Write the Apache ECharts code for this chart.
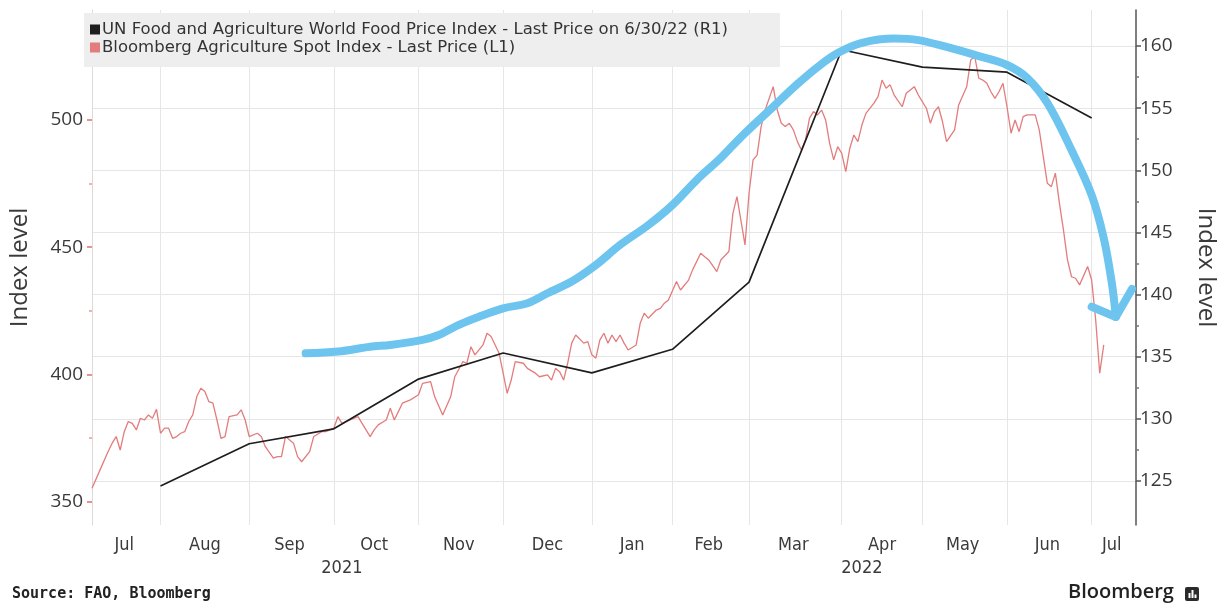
<!DOCTYPE html>
<html>
<head>
<meta charset="utf-8">
<title>Food prices</title>
<script src="https://cdn.jsdelivr.net/npm/echarts@6/dist/echarts.min.js"></script>
<style>
  html, body { margin: 0; padding: 0; background: #ffffff; }
  #chart { width: 1226px; height: 607px; }
</style>
</head>
<body>
<div id="chart"></div>
<script>
// ---- Trading calendar (x axis categories) ----
const firstSession = '2021-07-08';
const lastSession = '2022-07-19';
const marketHolidays = [
  '2021-09-06', '2021-11-25', '2021-12-24', '2022-01-17', '2022-02-21',
  '2022-04-15', '2022-05-30', '2022-06-20', '2022-07-04'
];
const monthNames = ['Jan', 'Feb', 'Mar', 'Apr', 'May', 'Jun', 'Jul', 'Aug', 'Sep', 'Oct', 'Nov', 'Dec'];

// ---- UN FAO World Food Price Index (right axis), monthly ----
const faoDates = [
  '2021-08-02', '2021-09-01', '2021-10-01', '2021-11-01', '2021-12-01', '2022-01-03',
  '2022-02-01', '2022-03-01', '2022-04-01', '2022-05-02', '2022-06-01', '2022-07-01'
];
const faoValues = [124.6, 128.0, 129.2, 133.2, 135.3, 133.7, 135.6, 141.0, 159.7, 158.3, 157.9, 154.2];

// ---- Bloomberg Agriculture Spot Index (left axis): [session number, level] ----
const agriSpot = [
  [0, 355.3], [2, 362.5], [4, 369.7], [5, 373.0], [6, 375.6], [7, 370.3], [8, 377.5], [9, 381.5],
  [10, 380.8], [11, 378.2], [12, 382.8], [13, 382.1], [14, 384.1], [15, 382.8], [16, 386.3], [17, 376.9],
  [18, 378.9], [19, 378.9], [20, 374.9], [21, 375.6], [22, 376.9], [23, 377.5], [24, 381.5], [25, 384.1],
  [26, 391.3], [27, 394.6], [28, 393.3], [29, 389.3], [30, 388.7], [31, 382.1], [32, 374.9], [33, 375.6],
  [34, 383.4], [36, 384.1], [37, 386.1], [38, 382.1], [39, 375.6], [41, 376.9], [42, 375.6], [43, 371.6],
  [45, 367.1], [46, 367.7], [47, 367.7], [48, 375.6], [50, 373.0], [51, 367.7], [52, 365.7], [54, 369.7],
  [55, 375.6], [57, 377.5], [58, 377.5], [60, 378.9], [61, 383.4], [62, 380.8], [64, 382.1], [66, 383.4],
  [67, 380.8], [69, 375.6], [70, 378.2], [71, 380.2], [73, 382.1], [74, 386.7], [75, 382.1], [76, 385.4],
  [77, 388.7], [79, 390.0], [81, 392.0], [82, 396.5], [84, 397.2], [85, 391.3], [87, 384.1], [89, 391.3],
  [90, 399.1], [92, 405.0], [93, 404.4], [94, 410.9], [95, 407.7], [97, 411.6], [98, 416.2], [99, 414.9],
  [101, 408.3], [102, 400.5], [103, 392.6], [104, 397.8], [105, 405.0], [107, 404.4], [108, 402.4], [110, 400.5],
  [111, 399.1], [113, 399.8], [114, 397.8], [115, 402.4], [116, 401.1], [117, 397.8], [118, 404.4], [119, 412.3],
  [120, 415.5], [122, 412.3], [123, 412.9], [124, 407.7], [125, 406.4], [126, 413.6], [127, 416.2], [128, 412.3],
  [129, 415.5], [130, 412.9], [131, 415.5], [132, 412.3], [133, 409.6], [135, 411.6], [136, 420.1], [137, 424.1],
  [138, 422.1], [140, 425.3], [141, 426.0], [142, 428.0], [143, 429.3], [145, 436.5], [146, 433.2], [148, 437.1],
  [149, 441.1], [151, 447.6], [152, 446.3], [153, 445.0], [155, 440.4], [156, 445.0], [158, 448.3], [159, 463.3],
  [160, 469.9], [162, 450.9], [163, 471.2], [164, 484.3], [165, 486.2], [166, 497.4], [167, 503.9], [169, 513.1],
  [170, 503.9], [171, 498.7], [172, 497.4], [173, 498.7], [174, 496.1], [175, 491.5], [176, 488.2], [177, 492.1],
  [178, 500.7], [179, 503.3], [180, 502.0], [181, 503.9], [182, 500.0], [183, 490.8], [184, 484.3], [185, 489.5],
  [186, 486.9], [187, 479.7], [188, 488.9], [189, 494.1], [190, 491.5], [191, 498.0], [192, 502.6], [194, 506.6],
  [195, 509.2], [196, 515.7], [197, 512.5], [198, 513.8], [199, 509.8], [201, 505.2], [202, 510.5], [204, 513.1],
  [205, 509.8], [207, 504.6], [208, 498.7], [209, 503.3], [210, 505.2], [211, 499.3], [212, 491.5], [214, 496.1],
  [215, 505.9], [217, 513.1], [218, 523.6], [219, 524.9], [220, 516.4], [221, 515.7], [222, 514.4], [223, 511.1],
  [224, 508.5], [225, 511.1], [226, 514.4], [227, 505.2], [228, 494.8], [229, 500.0], [230, 495.4], [231, 501.3],
  [232, 502.0], [234, 502.0], [235, 496.1], [236, 485.6], [237, 475.1], [238, 473.8], [239, 479.1], [240, 467.3],
  [241, 456.8], [242, 445.0], [243, 438.4], [244, 437.8], [245, 435.2], [247, 442.4], [248, 437.1], [249, 421.4],
  [250, 400.5], [251, 411.6]
];

// ---- Hand-drawn trend arc with arrow head (left axis units) ----
const trendArc = [
  [53, 408.3], [61, 409.0], [69, 410.9], [74, 411.6], [82, 413.6], [86, 415.5], [91, 419.5], [96, 422.7],
  [102, 426.0], [108, 428.0], [113, 431.9], [119, 436.5], [125, 443.0], [131, 450.9], [138, 458.7], [144, 466.6],
  [150, 476.4], [156, 485.1], [161, 493.3], [169, 505.2], [175, 514.1], [180, 520.8], [185, 526.3], [191, 530.3],
  [199, 532.0], [205, 531.4], [212, 528.7], [220, 525.1], [227, 521.6], [232, 516.5], [237, 506.7], [243, 488.2],
  [248, 470.5], [251, 453.6], [253, 436.0], [254, 422.6]
];
const trendArrowHead = [[248, 426.6], [254, 422.6], [258, 433.6]];

// ---- Axis ticks ----
const leftTicks = [350, 400, 450, 500];
const leftMinorTicks = [375, 425, 475];
const rightTicks = [125, 130, 135, 140, 145, 150, 155, 160];
const rightMinorTicks = [127.5, 132.5, 137.5, 142.5, 147.5, 152.5, 157.5];

const faoName = 'UN Food and Agriculture World Food Price Index - Last Price on 6/30/22 (R1)';
const agriName = 'Bloomberg Agriculture Spot Index - Last Price (L1)';

// Build list of sessions (weekdays that are not market holidays)
function buildSessions() {
  const out = [];
  const d = new Date(firstSession + 'T00:00:00Z');
  const end = new Date(lastSession + 'T00:00:00Z');
  while (d <= end) {
    const dow = d.getUTCDay();
    const s = d.toISOString().slice(0, 10);
    if (dow !== 0 && dow !== 6 && marketHolidays.indexOf(s) < 0) out.push(s);
    d.setUTCDate(d.getUTCDate() + 1);
  }
  return out;
}
const sessions = buildSessions();

// Month boundaries and label positions (centre of each month's span)
const monthStarts = new Set();
const monthLabelAt = new Set();
const yearLabelAt = new Set();
(function () {
  const mStart = [0];
  const yStart = [0];
  for (let i = 1; i < sessions.length; i++) {
    if (sessions[i].slice(0, 7) !== sessions[i - 1].slice(0, 7)) { mStart.push(i); monthStarts.add(i); }
    if (sessions[i].slice(0, 4) !== sessions[i - 1].slice(0, 4)) yStart.push(i);
  }
  const last = sessions.length - 1;
  mStart.forEach((s, k) => {
    const e = k + 1 < mStart.length ? mStart[k + 1] : last;
    monthLabelAt.add(Math.floor((s + e) / 2));
  });
  yStart.forEach((s, k) => {
    const e = k + 1 < yStart.length ? yStart[k + 1] : last;
    yearLabelAt.add(Math.floor((s + e) / 2));
  });
})();

const gridColor = '#e6e6e6';
const textColor = '#3a3a3a';
const blue = '#6cc4ef';

const chart = echarts.init(document.getElementById('chart'), null, { renderer: 'canvas' });

const option = {
  animation: false,
  backgroundColor: '#ffffff',
  grid: { left: 88, right: 83, top: 10, bottom: 82 },
  legend: {
    data: [faoName, agriName],
    orient: 'vertical',
    left: 84,
    top: 13,
    icon: 'rect',
    itemWidth: 10,
    itemHeight: 10,
    itemGap: 1,
    selectedMode: false,
    backgroundColor: '#eeeeee',
    padding: [8, 52, 11, 6],
    textStyle: { fontFamily: 'DejaVu Sans', fontSize: 16.5, color: '#333333', padding: [0, 0, 0, -3] }
  },
  xAxis: [
    {
      type: 'category',
      data: sessions,
      position: 'bottom',
      boundaryGap: false,
      axisLine: { show: false },
      axisTick: { show: false },
      splitLine: { show: true, interval: (i) => monthStarts.has(i), lineStyle: { color: gridColor, width: 1 } },
      axisLabel: {
        interval: (i) => monthLabelAt.has(i),
        formatter: (v) => monthNames[parseInt(v.slice(5, 7), 10) - 1],
        fontFamily: 'DejaVu Sans Condensed, DejaVu Sans',
        fontSize: 18,
        color: textColor,
        margin: 11
      }
    },
    {
      type: 'category',
      data: sessions,
      position: 'bottom',
      boundaryGap: false,
      axisLine: { show: false },
      axisTick: { show: false },
      splitLine: { show: false },
      axisLabel: {
        interval: (i) => yearLabelAt.has(i),
        formatter: (v) => v.slice(0, 4),
        fontFamily: 'DejaVu Sans Condensed, DejaVu Sans',
        fontSize: 18,
        color: textColor,
        margin: 34
      }
    }
  ],
  yAxis: [
    {
      type: 'value',
      position: 'left',
      min: 340.84,
      max: 543.22,
      axisLine: { show: true, lineStyle: { color: '#e2d8d8', width: 1 } },
      axisTick: { show: true, customValues: leftTicks, length: 5, lineStyle: { color: '#e07070', width: 1.5 } },
      axisLabel: { customValues: leftTicks, fontFamily: 'Open Sans', fontSize: 19, color: textColor, margin: 9 },
      splitLine: { show: false },
      name: 'Index level',
      nameLocation: 'middle',
      nameRotate: 90,
      nameGap: 60,
      nameTextStyle: { fontFamily: 'Open Sans', fontSize: 24, color: textColor }
    },
    {
      type: 'value',
      position: 'right',
      min: 121.46,
      max: 162.9,
      axisLine: { show: true, lineStyle: { color: '#555555', width: 1.5 } },
      axisTick: { show: true, customValues: rightTicks, length: 5, lineStyle: { color: '#555555', width: 1.5 } },
      axisLabel: { customValues: rightTicks, fontFamily: 'Open Sans', fontSize: 19, color: textColor, margin: 4 },
      splitLine: { show: true, lineStyle: { color: gridColor, width: 1 } },
      name: 'Index level',
      nameLocation: 'middle',
      nameRotate: -90,
      nameGap: 58,
      nameTextStyle: { fontFamily: 'Open Sans', fontSize: 24, color: textColor }
    },
    {
      type: 'value',
      position: 'left',
      min: 340.84,
      max: 543.22,
      axisLine: { show: false },
      axisTick: { show: true, customValues: leftMinorTicks, length: 3, lineStyle: { color: '#e89a9a', width: 1.5 } },
      axisLabel: { show: false },
      splitLine: { show: false }
    },
    {
      type: 'value',
      position: 'right',
      min: 121.46,
      max: 162.9,
      axisLine: { show: false },
      axisTick: { show: true, customValues: rightMinorTicks, length: 3, lineStyle: { color: '#777777', width: 1.5 } },
      axisLabel: { show: false },
      splitLine: { show: false }
    }
  ],
  series: [
    {
      name: agriName,
      type: 'line',
      yAxisIndex: 0,
      data: agriSpot,
      showSymbol: false,
      symbol: 'none',
      color: '#e37c7c',
      lineStyle: { color: '#e37c7c', width: 1.3 },
      z: 3
    },
    {
      name: faoName,
      type: 'line',
      yAxisIndex: 1,
      data: faoDates.map((d, i) => [d, faoValues[i]]),
      showSymbol: false,
      symbol: 'none',
      color: '#1e1e1e',
      lineStyle: { color: '#1e1e1e', width: 1.7 },
      z: 4
    },
    {
      name: 'trend',
      type: 'line',
      yAxisIndex: 0,
      data: trendArc,
      smooth: 0.35,
      showSymbol: false,
      symbol: 'none',
      lineStyle: { color: blue, width: 8, cap: 'round', join: 'round' },
      z: 5
    },
    {
      name: 'trend head',
      type: 'line',
      yAxisIndex: 0,
      data: trendArrowHead,
      showSymbol: false,
      symbol: 'none',
      lineStyle: { color: blue, width: 8, cap: 'round', join: 'round' },
      z: 5
    }
  ],
  graphic: [
    {
      type: 'text',
      left: 12,
      top: 587,
      style: { text: 'Source: FAO, Bloomberg', font: 'bold 15px "DejaVu Sans Mono", monospace', fill: '#222222' }
    },
    {
      type: 'text',
      left: 1068,
      top: 582,
      style: { text: 'Bloomberg', font: '600 20px "Open Sans", sans-serif', fill: '#222222' }
    },
    {
      type: 'group',
      left: 1185,
      top: 587,
      children: [
        { type: 'rect', shape: { x: 0, y: 0, width: 14, height: 14, r: 2 }, style: { fill: '#2a2a2a' } },
        { type: 'rect', shape: { x: 3.5, y: 6, width: 2, height: 5 }, style: { fill: '#ffffff' } },
        { type: 'rect', shape: { x: 6.5, y: 3, width: 2, height: 8 }, style: { fill: '#ffffff' } },
        { type: 'rect', shape: { x: 9.5, y: 7.5, width: 2, height: 3.5 }, style: { fill: '#ffffff' } }
      ]
    }
  ]
};

chart.setOption(option);
</script>
</body>
</html>
